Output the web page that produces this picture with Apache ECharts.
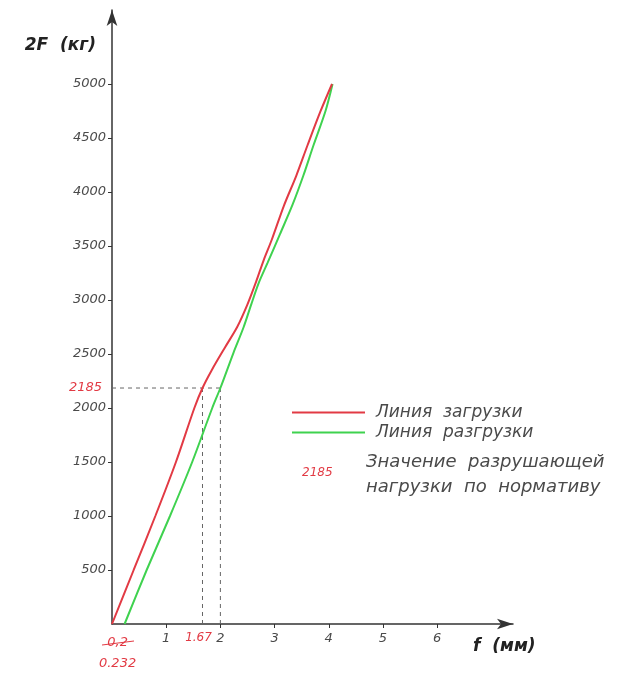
<!DOCTYPE html>
<html><head><meta charset="utf-8">
<script src="https://cdn.jsdelivr.net/npm/echarts@6/dist/echarts.min.js"></script>
<style>html,body{margin:0;padding:0;background:#fff}#c{width:622px;height:675px}</style>
</head><body><div id="c"></div>
<script>
// Loading line (red): [deflection mm, 2F kg]
const loadX = [0, 0.40, 0.80, 1.18, 1.52, 1.67, 1.84, 2.09, 2.31, 2.50, 2.66, 2.80, 2.95, 3.17, 3.40, 3.61, 3.85, 4.06];
const loadY = [0, 500, 1000, 1500, 2000, 2185, 2350, 2565, 2750, 2960, 3170, 3370, 3560, 3870, 4150, 4435, 4750, 5000];
// Unloading line (green)
const unloadX = [0.232, 0.64, 1.07, 1.48, 1.85, 2.00, 2.24, 2.43, 2.57, 2.71, 2.87, 3.10, 3.33, 3.53, 3.72, 3.94, 4.07];
const unloadY = [0, 500, 1000, 1500, 2000, 2185, 2509, 2750, 2960, 3160, 3343, 3610, 3880, 4150, 4435, 4750, 5000];
// Reference values
const normLoad = 2185;
const loadAtNorm = 1.67;
const unloadAtNorm = 2;
const residual = 0.232;
const xTicks = [1, 2, 3, 4, 5, 6];
const yTicks = [500, 1000, 1500, 2000, 2500, 3000, 3500, 4000, 4500, 5000];

const zip = (a, b) => a.map((v, i) => [v, b[i]]);
const txt = '#4a4a4a', red = '#e23a44', green = '#3fd24f';
const font = 'DejaVu Sans';

const chart = echarts.init(document.getElementById('c'), null, {renderer: 'canvas'});
chart.setOption({
  animation: false,
  grid: {left: 112, top: 10, width: 401, height: 614},
  legend: {
    left: 287, top: 399, orient: 'vertical', icon: 'rect', itemWidth: 73, itemHeight: 2, itemGap: 3,
    data: ['Линия  загрузки', 'Линия  разгрузки'],
    textStyle: {fontFamily: font, fontStyle: 'italic', fontSize: 17, color: txt, padding: [0, 0, 0, 6]}
  },
  xAxis: {
    type: 'value', min: 0, max: 7.4,
    name: 'f  (мм)', nameLocation: 'end', nameGap: -40,
    nameTextStyle: {fontFamily: font, fontStyle: 'italic', fontWeight: 'bold', fontSize: 17, color: '#222', align: 'left', verticalAlign: 'top', padding: [14, 0, 0, 0]},
    axisLine: {lineStyle: {color: '#333', width: 1.5}, symbol: ['none', 'arrow'], symbolSize: [8, 16]},
    axisTick: {show: true, length: 4, customValues: xTicks, lineStyle: {color: '#333'}},
    axisLabel: {
      customValues: [residual, loadAtNorm].concat(xTicks), margin: 8,
      fontFamily: font, fontStyle: 'italic', fontSize: 13, color: txt,
      formatter: v => v === residual ? '{s|0,2}\n{s|0.232}' : (v === loadAtNorm ? '{r|1.67}' : String(v)),
      rich: {r: {color: red, fontFamily: font, fontStyle: 'italic', fontSize: 12, padding: [0, 8, 0, 0]},
             s: {color: red, fontFamily: font, fontStyle: 'italic', fontSize: 13, lineHeight: 21, padding: [0, 14, 0, 0]}}
    },
    splitLine: {show: false}
  },
  yAxis: {
    type: 'value', min: 0, max: 5685,
    name: '2F  (кг)', nameLocation: 'end', nameGap: -36,
    nameTextStyle: {fontFamily: font, fontStyle: 'italic', fontWeight: 'bold', fontSize: 17, color: '#222', align: 'right', verticalAlign: 'middle', padding: [0, 16, 0, 0]},
    axisLine: {show: true, lineStyle: {color: '#333', width: 1.5}, symbol: ['none', 'arrow'], symbolSize: [8, 16]},
    axisTick: {show: true, length: 4, customValues: yTicks, lineStyle: {color: '#333'}},
    axisLabel: {
      customValues: yTicks.concat([normLoad]), margin: 6,
      fontFamily: font, fontStyle: 'italic', fontSize: 13, color: txt,
      formatter: v => v === normLoad ? '{r|2185}' : String(v),
      rich: {r: {color: red, fontFamily: font, fontStyle: 'italic', fontSize: 13, padding: [0, 4, 0, 0]}}
    },
    splitLine: {show: false}
  },
  series: [
    {name: 'Линия  загрузки', type: 'line', data: zip(loadX, loadY), smooth: 0.3, symbol: 'none',
     lineStyle: {color: red, width: 2}, itemStyle: {color: red}, z: 5},
    {name: 'Линия  разгрузки', type: 'line', data: zip(unloadX, unloadY), smooth: 0.3, symbol: 'none',
     lineStyle: {color: green, width: 2}, itemStyle: {color: green}, z: 4},
    {type: 'line', data: [[0, normLoad], [unloadAtNorm, normLoad]], symbol: 'none', silent: true,
     lineStyle: {color: '#666', width: 1, type: [4, 4]}},
    {type: 'line', data: [[loadAtNorm, 0], [loadAtNorm, normLoad]], symbol: 'none', silent: true,
     lineStyle: {color: '#666', width: 1, type: [4, 4]}},
    {type: 'line', data: [[unloadAtNorm, 0], [unloadAtNorm, normLoad]], symbol: 'none', silent: true,
     lineStyle: {color: '#666', width: 1, type: [4, 4]}}
  ],
  graphic: [
    {type: 'text', left: 302, top: 467, style: {text: '2185', fill: red, font: 'italic 12px "DejaVu Sans"'}},
    {type: 'text', left: 366, top: 450, style: {text: 'Значение  разрушающей\nнагрузки  по  нормативу', fill: txt, font: 'italic 18px "DejaVu Sans"', lineHeight: 25}},
    {type: 'line', shape: {x1: 102, y1: 645, x2: 134, y2: 641}, style: {stroke: red, lineWidth: 1}}
  ]
});
</script></body></html>
